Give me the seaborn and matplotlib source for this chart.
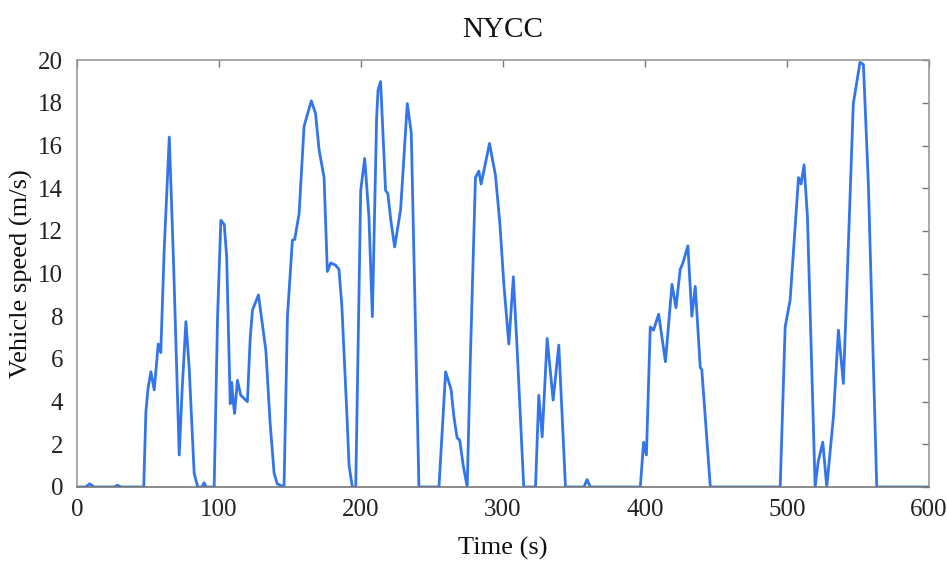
import matplotlib
matplotlib.use("Agg")
import matplotlib.pyplot as plt
import seaborn as sns
import pandas as pd

# NYCC drive cycle: time (s) and vehicle speed (m/s)
time_s = [0, 6, 9, 12, 26, 28.6, 31, 47, 48.5, 50, 52, 54.4, 57.2, 59, 61.4, 65, 68, 72, 74,
          76.7, 79, 82.5, 85, 88, 89.5, 91, 96.6, 99, 101.3, 103.7, 105.4, 107.9, 109, 110,
          111, 113, 115.3, 120, 122, 123.6, 127.8, 130, 133, 136, 138.8, 141, 145.8, 148.2,
          151.7, 153.3, 156.4, 159.9, 165, 168, 170.5, 174, 176.3, 178.7, 182, 184.5, 186.5,
          188, 190, 191.6, 193.9, 196.3, 199.8, 202.6, 205.6, 208, 211, 212, 213.8, 217.3,
          218.9, 221, 223.7, 227.9, 232.6, 235.4, 237.7, 240.8, 254.9, 259.6, 263.5, 265.4,
          267.7, 269.5, 272, 274.8, 277, 280.6, 283, 284.6, 290.5, 294.7, 297.8, 300.6, 304.1,
          307.3, 310, 314.6, 322.9, 325.2, 327.6, 331.1, 335.3, 339.3, 344, 357, 359.2, 361.5,
          396.7, 399, 401, 403.7, 406, 409.6, 414.4, 419, 421.8, 424.8, 426.7, 430.2, 433,
          435.4, 438.9, 440, 446, 495.2, 498.7, 502.2, 505, 508.1, 509.9, 512, 514.4, 519.8,
          522, 525.2, 528, 532.7, 536.2, 539.7, 541.6, 546.7, 551.4, 553.8, 557.3, 563.2, 600]
speed_ms = [0, 0, 0.15, 0, 0, 0.08, 0, 0, 3.5, 4.6, 5.4, 4.55, 6.7, 6.3, 11.1, 16.4, 10.5, 1.5, 4.5,
            7.75, 5.6, 0.65, 0, 0, 0.2, 0, 0, 8.0, 12.5, 12.3, 10.8, 3.9, 4.9, 4.0,
            3.45, 5.0, 4.3, 4.0, 7.0, 8.3, 9.0, 7.9, 6.4, 3.0, 0.65, 0.15, 0, 8.0,
            11.57, 11.6, 12.8, 16.9, 18.1, 17.5, 15.8, 14.5, 10.1, 10.5, 10.4, 10.2, 8.5,
            6.4, 3.5, 1.0, 0, 0, 13.9, 15.4, 12.66, 7.98, 17.3, 18.6, 19.0, 13.9,
            13.75, 12.5, 11.25, 13.0, 17.97, 16.6, 9.5, 0, 0, 5.4, 4.55, 3.3,
            2.3, 2.2, 1.0, 0, 6.0, 14.5, 14.8, 14.2, 16.1, 14.6, 12.35, 9.5, 6.7,
            9.85, 6.4, 0, 0, 4.3, 2.35, 6.96, 4.07, 6.65, 0, 0, 0.35, 0,
            0, 2.1, 1.5, 7.5, 7.35, 8.1, 5.87, 9.5, 8.4, 10.2, 10.5, 11.3, 8.0,
            9.4, 5.6, 5.5, 0, 0, 7.5, 8.76, 11.5, 14.5, 14.2, 15.1, 12.66, 0,
            1.2, 2.1, 0, 3.3, 7.35, 4.85, 8.3, 17.97, 19.9, 19.8, 14.2, 0, 0]

x_ticks = [0, 100, 200, 300, 400, 500, 600]
y_ticks = [0, 2, 4, 6, 8, 10, 12, 14, 16, 18, 20]

sns.set_theme(style="white")
plt.rcParams["font.family"] = ["Liberation Serif", "DejaVu Serif"]

df = pd.DataFrame({"Time (s)": time_s, "Vehicle speed (m/s)": speed_ms})

fig = plt.figure(figsize=(9.47, 5.63), dpi=100)
ax = fig.add_axes([0.0813, 0.135, 0.8997, 0.758])

sns.lineplot(data=df, x="Time (s)", y="Vehicle speed (m/s)", ax=ax,
             color="#3375ea", linewidth=2.0, estimator=None, sort=False)

ax.set_xlim(0, 600)
ax.set_ylim(0, 20)
ax.set_xticks(x_ticks)
ax.set_yticks(y_ticks)
ax.tick_params(axis="both", which="both", direction="in", length=5, width=1,
               color="#777777", labelsize=18, labelcolor="#222222",
               top=True, right=True)
ax.tick_params(axis="x", pad=9)
ax.tick_params(axis="y", pad=10)
for side, sp in ax.spines.items():
    sp.set_visible(True)
    sp.set_color("#999999")
    sp.set_linewidth(1.2)
ax.spines["bottom"].set_color("#777777")

ax.set_xlabel("Time (s)", fontsize=19, color="#111111", labelpad=11)
ax.set_ylabel("Vehicle speed (m/s)", fontsize=19, color="#111111", labelpad=4)
ax.set_title("NYCC", fontsize=21, color="#111111", pad=17)
ax.grid(False)

fig.savefig("out.png", dpi=100)
